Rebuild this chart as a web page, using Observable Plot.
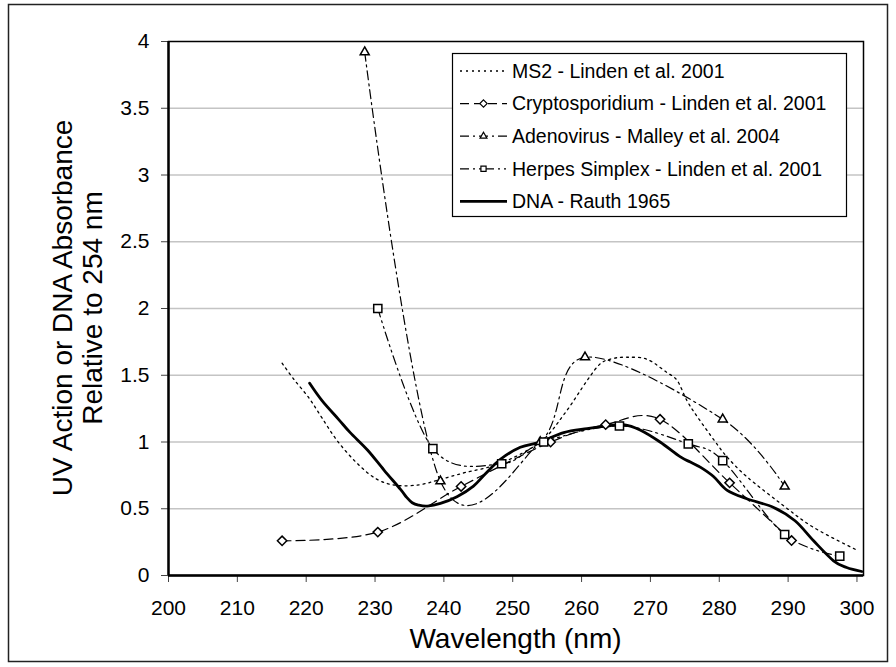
<!DOCTYPE html>
<html>
<head>
<meta charset="utf-8">
<script src="https://cdn.jsdelivr.net/npm/d3@7"></script>
<script src="https://cdn.jsdelivr.net/npm/@observablehq/plot@0.6"></script>
<style>
  html, body { margin: 0; padding: 0; background: white; }
  #wrap { position: relative; width: 896px; height: 667px; font-family: "Liberation Sans", Arial, sans-serif; }
</style>
</head>
<body>
<div id="wrap"></div>
<script>
// ---- data ----
const xTicks = [200, 210, 220, 230, 240, 250, 260, 270, 280, 290, 300];
const yTicks = [0, 0.5, 1, 1.5, 2, 2.5, 3, 3.5, 4];

const seriesNames = [
  "MS2 - Linden et al. 2001",
  "Cryptosporidium - Linden et al. 2001",
  "Adenovirus - Malley et al. 2004",
  "Herpes Simplex - Linden et al. 2001",
  "DNA - Rauth 1965"
];

const ms2Wl  = [216.5, 218.2, 220.4, 222.3, 224.5, 227.4, 230.3, 233.2, 236.5, 239.5, 243, 248.2, 254, 257.5, 260.8, 262.7, 264.5, 266.6, 269.5, 272.4, 273.9, 275.3, 276.8, 279.3, 281.1, 284, 288.9, 293.7, 300];
const ms2Val = [1.59, 1.47, 1.33, 1.18, 1.01, 0.84, 0.72, 0.675, 0.68, 0.72, 0.77, 0.84, 1.0, 1.21, 1.46, 1.585, 1.625, 1.635, 1.62, 1.52, 1.46, 1.31, 1.19, 1.01, 0.89, 0.74, 0.54, 0.36, 0.19];

const cryptoWl  = [216.5, 230.4, 242.5, 255.5, 263.5, 271.4, 281.5, 290.5];
const cryptoVal = [0.26, 0.325, 0.667, 1.0, 1.13, 1.17, 0.694, 0.262];

const adenoWl  = [228.5, 239.5, 254, 260.5, 280.5, 289.5];
const adenoVal = [3.92, 0.706, 1.0, 1.635, 1.17, 0.667];

const herpesWl  = [230.4, 238.4, 248.4, 254.5, 265.5, 275.5, 280.5, 289.5, 297.5];
const herpesVal = [2.0, 0.95, 0.837, 1.0, 1.12, 0.986, 0.861, 0.307, 0.145];

const dnaWl  = [220.5, 222.3, 224.7, 226.4, 228.9, 231.3, 233.7, 234.6, 235.4, 236.3, 237.6, 239.5, 241.9, 244.3, 246, 248.2, 251.1, 254, 257.4, 260.8, 263.7, 266.1, 268.5, 271.4, 274.3, 275.8, 277.3, 279.2, 281.1, 284, 287.9, 291, 293.7, 296.6, 298.5, 300.7];
const dnaVal = [1.44, 1.31, 1.17, 1.07, 0.94, 0.79, 0.645, 0.585, 0.545, 0.527, 0.52, 0.54, 0.59, 0.67, 0.76, 0.87, 0.96, 1.0, 1.07, 1.10, 1.12, 1.13, 1.09, 1.0, 0.89, 0.85, 0.81, 0.74, 0.64, 0.575, 0.51, 0.41, 0.26, 0.11, 0.06, 0.03];

// ---- styles ----
const styles = [
  {dash: "2,4",            width: 1.3, symbol: null},
  {dash: "9,5",            width: 1.2, symbol: "diamond2", r: 4.2, legSym: d3.symbolDiamond2},
  {dash: "9,4,2,4",        width: 1.2, symbol: "triangle2", r: 4.3, legSym: d3.symbolTriangle2},
  {dash: "9,4,2,4,2,4",    width: 1.2, symbol: "square2", r: 5.2, legSym: d3.symbolSquare2},
  {dash: null,             width: 2.8, symbol: null}
];

const seriesData = [
  [ms2Wl, ms2Val], [cryptoWl, cryptoVal], [adenoWl, adenoVal], [herpesWl, herpesVal], [dnaWl, dnaVal]
].map(([wl, val], i) => wl.map((w, j) => ({series: seriesNames[i], wl: w, val: val[j]})));

const fontFamily = '"Liberation Sans", Arial, sans-serif';

const marks = [
  Plot.gridY(yTicks.filter(d => d > 0 && d < 4), {stroke: "#c4c4c4", strokeOpacity: 1, strokeWidth: 1.3}),
  Plot.frame({stroke: "black", strokeWidth: 1.5}),
  Plot.axisX({ticks: xTicks, tickSize: 7, tickPadding: 18, label: null, fontSize: 21, stroke: "#444", tickFormat: d => String(d)}),
  Plot.axisY({ticks: yTicks, tickSize: 7, tickPadding: 12, label: null, fontSize: 21, stroke: "#444", tickFormat: d => String(d)}),
  Plot.ruleX([200], {stroke: "black", strokeWidth: 2.4}),
  Plot.ruleY([0], {stroke: "black", strokeWidth: 2.4})
];
seriesData.forEach((rows, i) => {
  const s = styles[i];
  marks.push(Plot.line(rows, {x: "wl", y: "val", curve: "cardinal", stroke: "black",
    strokeWidth: s.width, strokeDasharray: s.dash, clip: true}));
});
seriesData.forEach((rows, i) => {
  const s = styles[i];
  if (s.symbol) marks.push(Plot.dot(rows, {x: "wl", y: "val", symbol: s.symbol, r: s.r,
    fill: "white", stroke: "black", strokeWidth: 1.5}));
});

const chart = Plot.plot({
  width: 896,
  height: 667,
  marginLeft: 168,
  marginRight: 33,
  marginTop: 41,
  marginBottom: 92,
  style: {fontFamily, fontSize: "21px", background: "white", color: "black"},
  x: {domain: [200, 300.95]},
  y: {domain: [0, 4]},
  marks
});

const wrap = document.getElementById("wrap");
wrap.appendChild(chart);

// ---- overlay: titles, legend, outer border ----
const ov = d3.select(wrap).append("svg")
  .attr("width", 896).attr("height", 667)
  .style("position", "absolute").style("left", "0px").style("top", "0px")
  .style("font-family", fontFamily);

ov.append("rect").attr("x", 8.5).attr("y", 4.5).attr("width", 879).attr("height", 657)
  .attr("fill", "none").attr("stroke", "#222").attr("stroke-width", 1.5);

ov.append("text").attr("x", 515.5).attr("y", 648).attr("text-anchor", "middle")
  .attr("font-size", 28).text("Wavelength (nm)");

const yTitle = ["UV Action or DNA Absorbance", "Relative to 254 nm"];
yTitle.forEach((t, i) => {
  ov.append("text").attr("transform", `translate(${72 + i * 30},308) rotate(-90)`)
    .attr("text-anchor", "middle").attr("font-size", 28).text(t);
});

const lg = ov.append("g");
lg.append("rect").attr("x", 452.5).attr("y", 53.5).attr("width", 394).attr("height", 163)
  .attr("fill", "white").attr("stroke", "black").attr("stroke-width", 1.2);
seriesNames.forEach((name, i) => {
  const s = styles[i];
  const cy = 71 + i * 32.6;
  lg.append("line").attr("x1", 460).attr("x2", 507).attr("y1", cy).attr("y2", cy)
    .attr("stroke", "black").attr("stroke-width", s.width)
    .attr("stroke-dasharray", s.dash ? s.dash : null);
  if (s.legSym) {
    lg.append("path").attr("d", d3.symbol(s.legSym, 34)())
      .attr("transform", `translate(483.5,${cy})`)
      .attr("fill", "white").attr("stroke", "black").attr("stroke-width", 1.2);
  }
  lg.append("text").attr("x", 512).attr("y", cy).attr("dy", "0.35em")
    .attr("font-size", 19.5).text(name);
});
</script>
</body>
</html>
